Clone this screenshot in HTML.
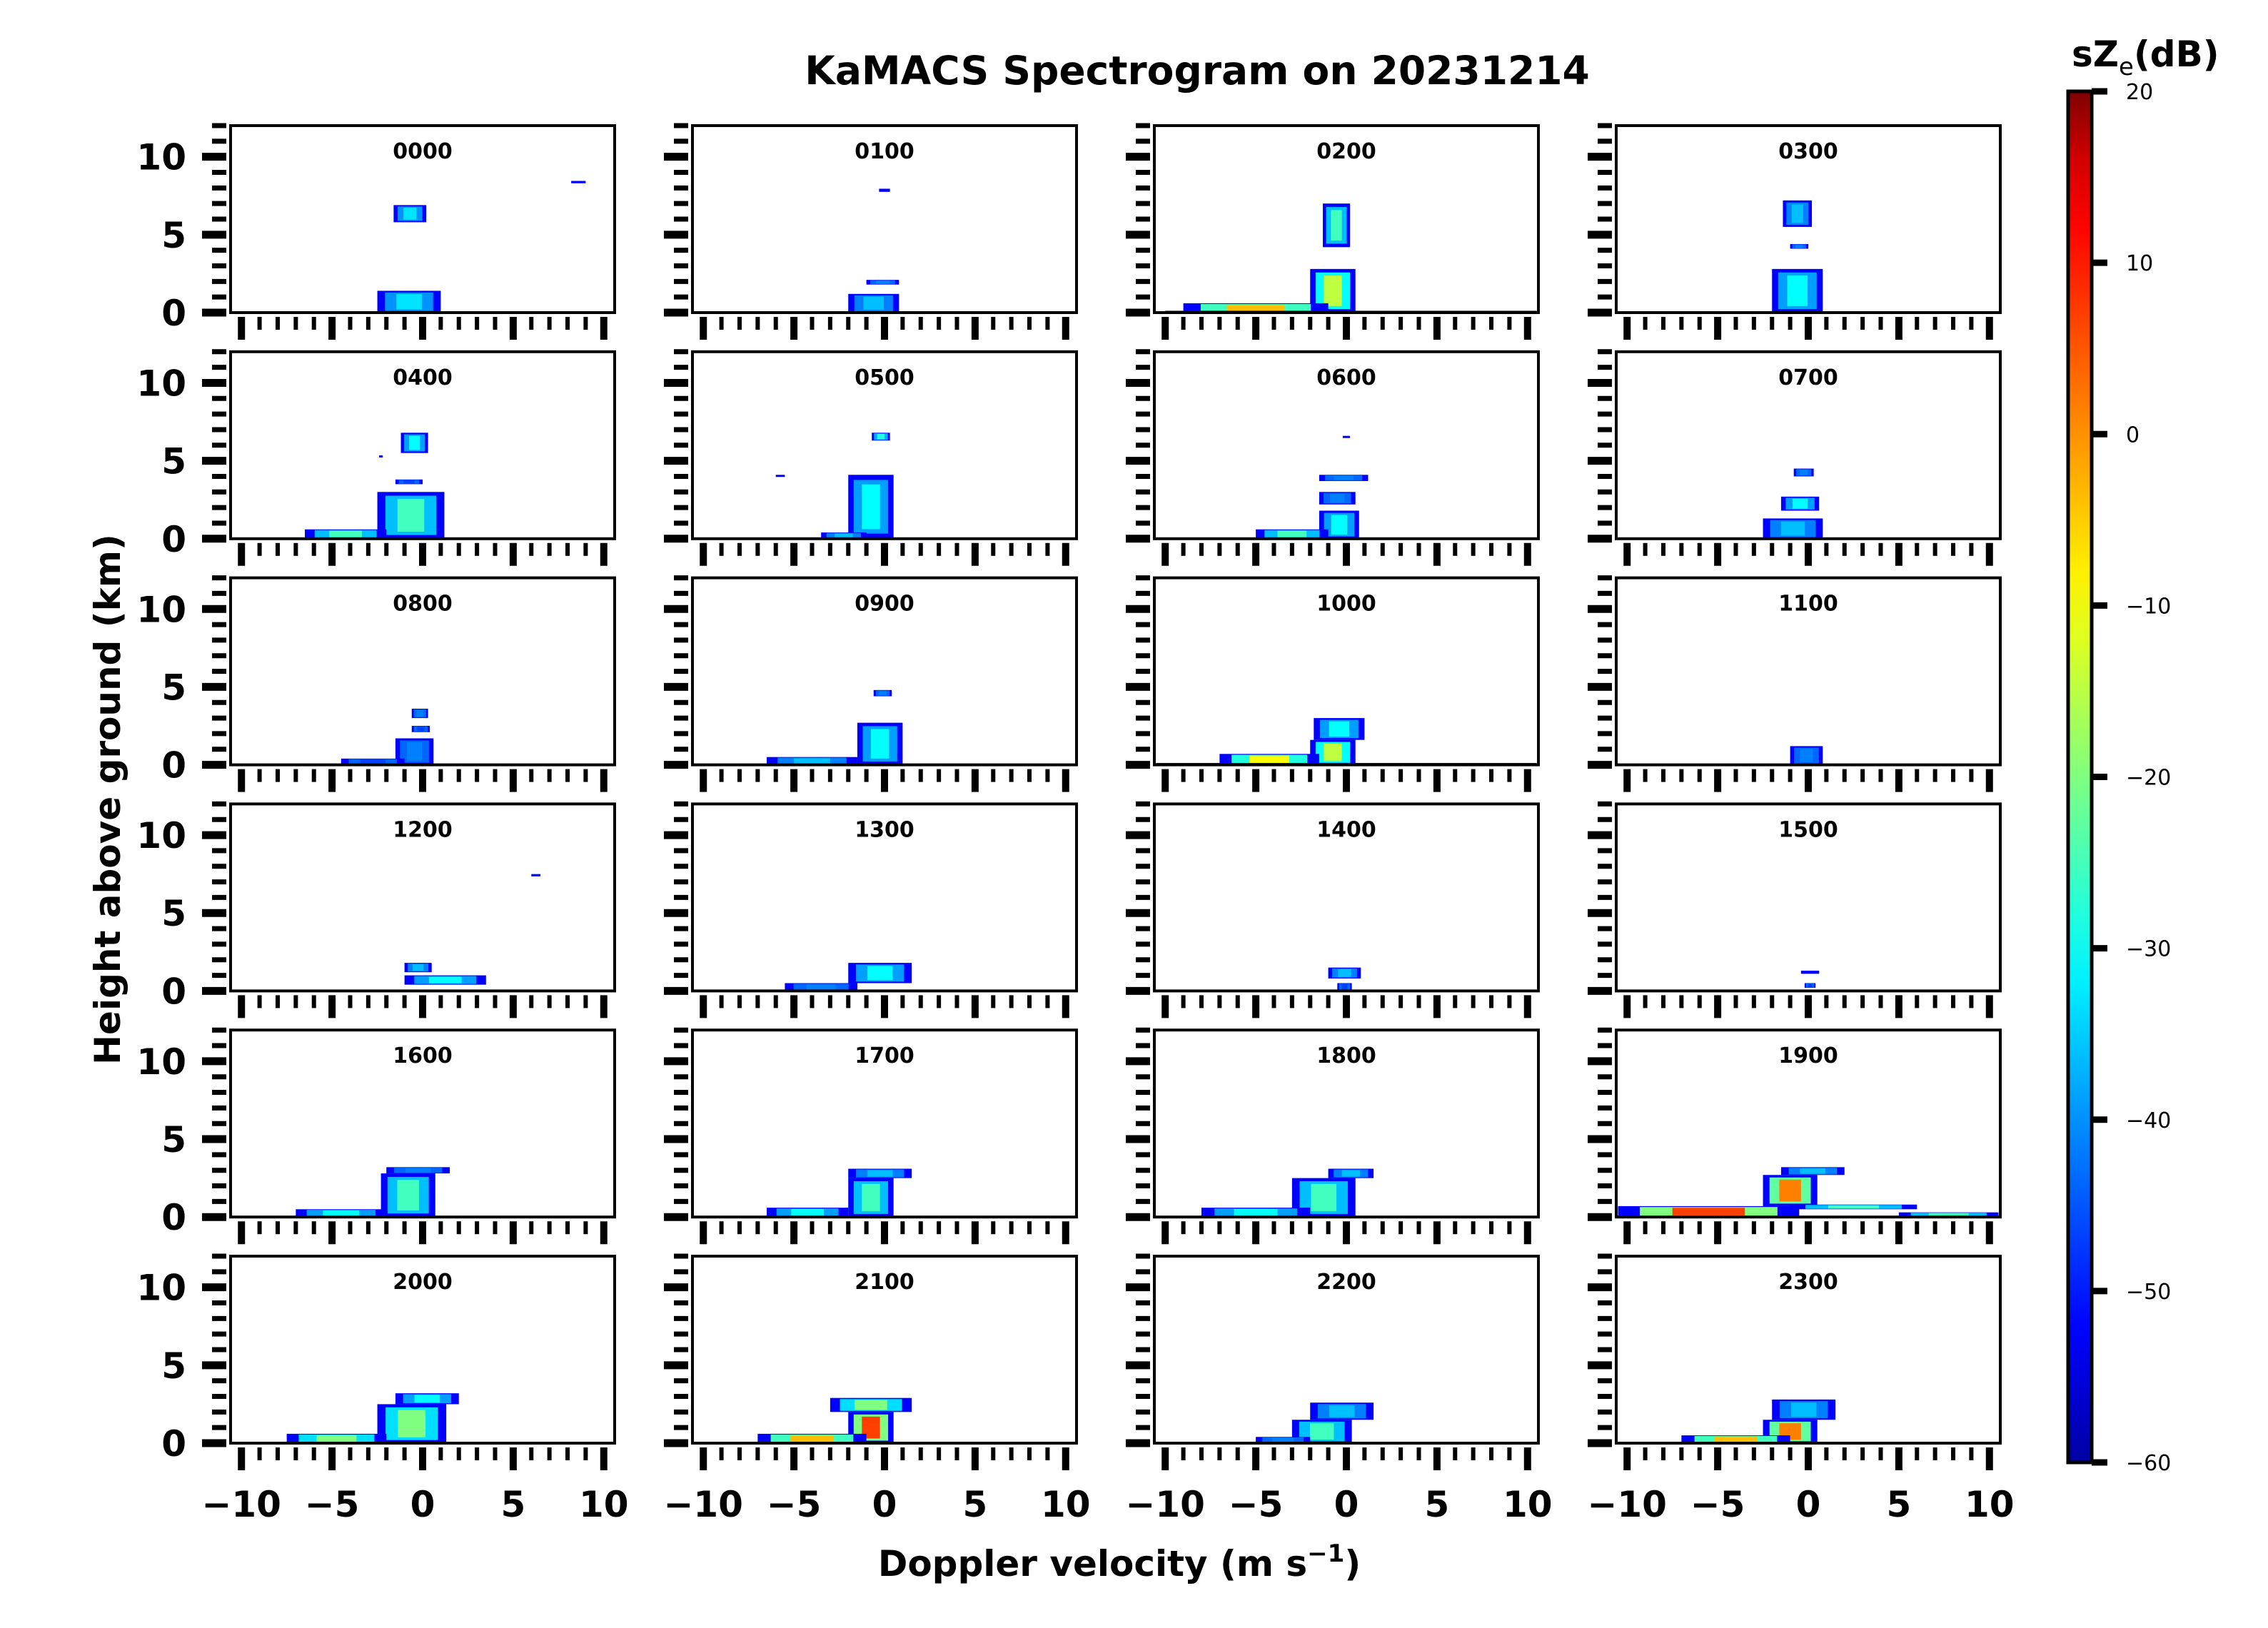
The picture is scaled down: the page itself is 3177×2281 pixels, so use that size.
<!DOCTYPE html>
<html><head><meta charset="utf-8"><style>
html,body{margin:0;padding:0;background:#fff;}
svg{display:block;font-family:"DejaVu Sans","Liberation Sans",sans-serif;}
</style></head><body>
<svg id="fig" width="3177" height="2281" viewBox="0 0 3177 2281" xmlns="http://www.w3.org/2000/svg">
<defs><linearGradient id="jetgrad" x1="0" y1="1" x2="0" y2="0"></linearGradient></defs>
<text x="1677" y="118" font-size="55" font-weight="bold" text-anchor="middle">KaMACS Spectrogram on 20231214</text>
<text transform="translate(168,1120) rotate(-90)" font-size="50" font-weight="bold" text-anchor="middle">Height above ground (km)</text>
<text x="1568" y="2208" font-size="50" font-weight="bold" text-anchor="middle">Doppler velocity (m s<tspan font-size="34" dy="-20">−1</tspan><tspan dy="20">)</tspan></text>
<text x="2902" y="93" font-size="50" font-weight="bold">sZ<tspan font-size="34" font-weight="normal" dy="12">e</tspan><tspan dy="-12">(dB)</tspan></text>
<g id="panels"></g>
<g id="cbar"></g>
</svg>
<script>
// ---- data ----
const times = ["0000","0100","0200","0300","0400","0500","0600","0700","0800","0900","1000","1100","1200","1300","1400","1500","1600","1700","1800","1900","2000","2100","2200","2300"];
// features per panel: [hBottom km, hTop km, vMin m/s, vMax m/s, peak dB]
const features = [
 [[5.8,6.9,-1.6,0.2,-32],[0,1.4,-2.5,1.0,-32],[8.3,8.45,8.2,9.0,-45]],
 [[7.75,7.95,-0.3,0.3,-45],[1.8,2.1,-1.0,0.8,-40],[0,1.2,-2.0,0.8,-35]],
 [[4.2,7.0,-1.3,0.2,-25],[0,2.8,-2.0,0.5,-15],[0,0.6,-9,-1,-5],[0,0.12,-10,10.5,-40]],
 [[5.5,7.2,-1.4,0.2,-35],[4.1,4.4,-1.0,0.0,-40],[0,2.8,-2.0,0.8,-30]],
 [[5.5,6.8,-1.2,0.3,-30],[3.5,3.8,-1.5,0.0,-45],[0,3.0,-2.5,1.2,-25],[0,0.6,-6.5,-2,-25],[5.25,5.35,-2.4,-2.2,-45]],
 [[6.3,6.8,-0.7,0.3,-28],[0,4.1,-2.0,0.5,-30],[0,0.4,-3.5,-1,-35],[4.0,4.1,-6,-5.5,-45]],
 [[6.5,6.6,-0.2,0.2,-45],[3.7,4.1,-1.5,1.2,-40],[2.2,3.0,-1.5,0.5,-40],[0,1.8,-1.5,0.7,-30],[0,0.6,-5,-1,-25]],
 [[4.0,4.5,-0.8,0.3,-40],[1.8,2.7,-1.5,0.6,-30],[0,1.3,-2.5,0.8,-35]],
 [[3.0,3.6,-0.6,0.3,-40],[2.1,2.5,-0.6,0.4,-45],[0,1.7,-1.5,0.6,-40],[0,0.4,-4.5,-1,-45]],
 [[4.4,4.8,-0.6,0.4,-40],[0,2.7,-1.5,1.0,-30],[0,0.5,-6.5,-1.5,-35]],
 [[1.6,3.0,-1.8,1.0,-30],[0,1.6,-2.0,0.5,-15],[0,0.7,-7,-1.5,-10],[0,0.12,-10.5,10.5,-40]],
 [[0,1.2,-1.0,0.8,-40]],
 [[1.2,1.8,-1.0,0.5,-35],[0.4,1.0,-1.0,3.5,-30],[7.35,7.5,6,6.5,-45]],
 [[0.5,1.8,-2.0,1.5,-30],[0,0.5,-5.5,-1.5,-40]],
 [[0.8,1.5,-1.0,0.8,-35],[0,0.5,-0.5,0.3,-45]],
 [[1.1,1.3,-0.4,0.6,-40],[0.2,0.5,-0.2,0.4,-45]],
 [[2.8,3.2,-2.0,1.5,-40],[0,2.8,-2.3,0.7,-25],[0,0.5,-7,-2,-30]],
 [[2.5,3.1,-2.0,1.5,-35],[0,2.5,-2.0,0.5,-25],[0,0.6,-6.5,-2,-30]],
 [[2.5,3.1,-1.0,1.5,-35],[0,2.5,-3.0,0.5,-25],[0,0.6,-8,-2,-30]],
 [[2.7,3.2,-1.5,2.0,-35],[0.7,2.7,-2.5,0.5,0],[0,0.7,-10.5,-0.5,5],[0.5,0.8,-1,6,-25],[0,0.3,5,10.5,-25]],
 [[2.5,3.2,-1.5,2.0,-30],[0,2.5,-2.5,1.3,-20],[0,0.6,-7.5,-2,-20]],
 [[2.0,2.9,-3.0,1.5,-20],[0,2.0,-2.0,0.5,5],[0,0.6,-7,-1,-5]],
 [[1.5,2.6,-2.0,1.5,-35],[0,1.5,-3.0,0.3,-25],[0,0.4,-5,-2,-40]],
 [[1.5,2.8,-2.0,1.5,-35],[0,1.5,-2.5,0.5,0],[0,0.5,-7,-1,-5]]
];
const xTicksMajor = [-10,-5,0,5,10];
const yTicksMajor = [0,5,10];
const cbarTicks = [20,10,0,-10,-20,-30,-40,-50,-60];
const xLim = [-10.6,10.6], yLim = [0,12], cLim = [-60,20];

const NS="http://www.w3.org/2000/svg";
function mk(tag, attrs, parent){const e=document.createElementNS(NS,tag);for(const k in attrs)e.setAttribute(k,attrs[k]);parent.appendChild(e);return e;}
function jet(t){t=Math.max(0,Math.min(1,t));
 const r=Math.max(0,Math.min(1,1.5-Math.abs(4*t-3))),g=Math.max(0,Math.min(1,1.5-Math.abs(4*t-2))),b=Math.max(0,Math.min(1,1.5-Math.abs(4*t-1)));
 return `rgb(${Math.round(r*255)},${Math.round(g*255)},${Math.round(b*255)})`;}
function cnorm(d){return (d-cLim[0])/(cLim[1]-cLim[0]);}

const lefts=[323,970,1617,2264], W=538, H=262, top0=176, rowPitch=316.8;
const panels=document.getElementById('panels');
times.forEach((tm,i)=>{
 const col=i%4,row=Math.floor(i/4);
 const L=lefts[col],T=top0+row*rowPitch,B=T+H;
 const xs=v=>L+(v-xLim[0])/(xLim[1]-xLim[0])*W;
 const ys=h=>B-(h-yLim[0])/(yLim[1]-yLim[0])*H;
 const g=mk('g',{},panels);
 
 
 features[i].forEach((f,j)=>{
  const [h0,h1,v0,v1,db]=f;
  const x0=xs(v0),x1=xs(v1),y0=ys(h1),y1=ys(h0);
  const w=Math.max(x1-x0,3),h=Math.max(y1-y0,3);
  const o=mk('rect',{x:x0,y:y0,width:w,height:h,fill:jet(cnorm(-50))},g);
  
  
  const mid=(db-45)/2;
  if(w>8&&h>6){
   mk('rect',{x:x0+w*0.12,y:y0+h*0.08,width:w*0.76,height:h*0.84,fill:jet(cnorm(Math.max(mid,-42)))},g);
   mk('rect',{x:x0+w*0.3,y:y0+h*0.15,width:w*0.4,height:h*0.7,fill:jet(cnorm(db))},g);
  }
 });
 const fr=mk('rect',{x:L,y:T,width:W,height:H,fill:'none',stroke:'#000','stroke-width':4},g);
 
 
 const lab=mk('text',{x:L+W/2,y:T+46,'font-size':30,'font-weight':'bold','text-anchor':'middle'},g);
 lab.textContent=tm;
 
 
 for(let v=-10;v<=10;v++){
  const major=v%5===0,x=xs(v);
  mk('line',{x1:x,x2:x,y1:B+6,y2:B+(major?38:24),stroke:'#000','stroke-width':major?10:6},g);
 }
 for(let h=0;h<=12;h++){
  const major=h%5===0,y=ys(h);
  mk('line',{x1:L-6,x2:L-(major?40:26),y1:y,y2:y,stroke:'#000','stroke-width':major?11:7},g);
 }
 if(col===0) yTicksMajor.forEach(h=>{
  const t=mk('text',{x:L-62,y:ys(h)+18,'font-size':50,'font-weight':'bold','text-anchor':'end'},g);
  t.textContent=String(h);
  
  
 });
 if(row===5) xTicksMajor.forEach(v=>{
  const t=mk('text',{x:xs(v),y:B+103,'font-size':50,'font-weight':'bold','text-anchor':'middle'},g);
  t.textContent=(v<0?'−':'')+Math.abs(v);
  
  
 });
});

// colorbar
const grad=document.getElementById('jetgrad');
for(let k=0;k<=20;k++) mk('stop',{offset:k/20,'stop-color':jet(0.035+0.93*k/20*1.0+ (k===20?0.035:0))},grad);
const cb=document.getElementById('cbar');
const cT=128,cB=2049,cL=2897,cR=2930;
const cy=d=>cB-(d-cLim[0])/(cLim[1]-cLim[0])*(cB-cT);
const cr=mk('rect',{x:cL,y:cT,width:cR-cL,height:cB-cT,fill:'url(#jetgrad)',stroke:'#000','stroke-width':5},cb);


cbarTicks.forEach(d=>{
 mk('line',{x1:cR,x2:cR+22,y1:cy(d),y2:cy(d),stroke:'#000','stroke-width':9},cb);
 const t=mk('text',{x:2978,y:cy(d)+11,'font-size':30},cb);
 t.textContent=(d<0?'−':'')+Math.abs(d);
 
 
});
</script>
</body></html>
